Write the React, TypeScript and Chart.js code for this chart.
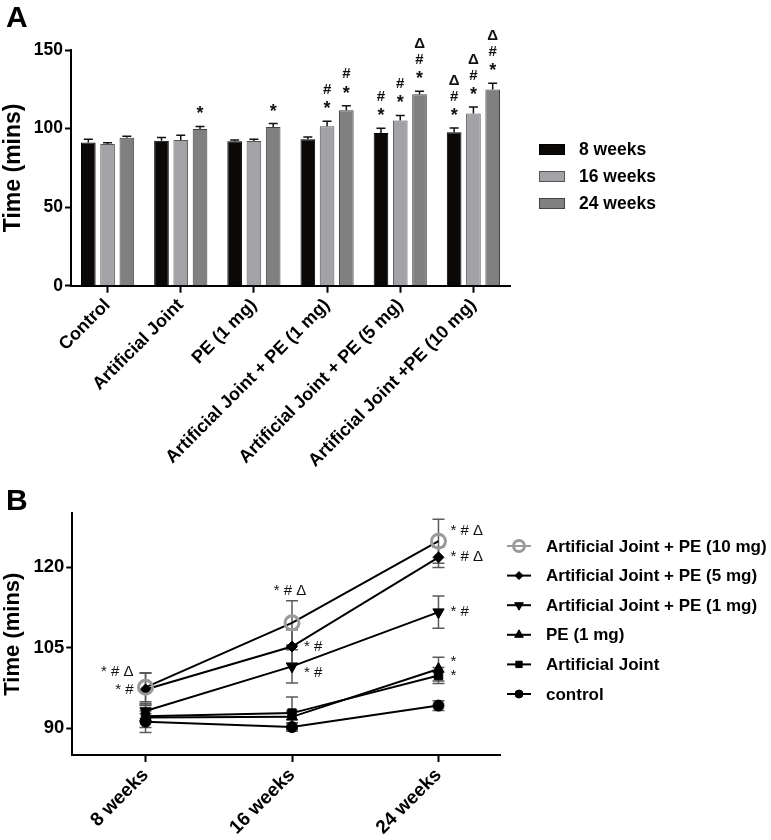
import React, { useEffect, useRef } from 'react';
import { Chart, registerables } from 'chart.js';
import { drawPoint } from 'chart.js/helpers';

Chart.register(...registerables);

const FONT = '"Liberation Sans", Arial, Helvetica, sans-serif';

// ---------- data ----------
const groupLabels = [
  'Control',
  'Artificial Joint',
  'PE (1 mg)',
  'Artificial Joint + PE (1 mg)',
  'Artificial Joint + PE (5 mg)',
  'Artificial Joint +PE (10 mg)',
];
const weekLabels = ['8 weeks', '16 weeks', '24 weeks'];

const controlMean = [91.2, 90.2, 94.2];
const jointMean = [92.2, 92.8, 99.8];
const pe1Mean = [92.0, 92.1, 101.0];
const jointPe1Mean = [93.2, 101.5, 111.6];
const jointPe5Mean = [97.2, 105.2, 121.8];
const jointPe10Mean = [97.6, 109.6, 124.8];

const controlErr = [2.0, 0.8, 0.9];
const jointErr = [2.1, 3.0, 1.5];
const pe1Err = [0.7, 1.1, 2.2];
const jointPe1Err = [1.4, 3.1, 3.0];
const jointPe5Err = [3.0, 3.1, 1.9];
const jointPe10Err = [2.7, 4.1, 4.1];

const controlSig = ['', '', ''];
const jointSig = ['', '', '*'];
const pe1Sig = ['', '', '*'];
const jointPe1Sig = ['', '*#', '*#'];
const jointPe5Sig = ['*#', '*#', '*#Δ'];
const jointPe10Sig = ['*#Δ', '*#Δ', '*#Δ'];

const yTicksA = [0, 50, 100, 150];
const yTicksB = [90, 105, 120];
const xPositionsB = [0, 1, 2];

const groupMeans = [controlMean, jointMean, pe1Mean, jointPe1Mean, jointPe5Mean, jointPe10Mean];
const groupErrs = [controlErr, jointErr, pe1Err, jointPe1Err, jointPe5Err, jointPe10Err];
const groupSigs = [controlSig, jointSig, pe1Sig, jointPe1Sig, jointPe5Sig, jointPe10Sig];

const barColors = ['#0b0808', '#a3a3a7', '#808080'];
const barBorders = ['#000000', '#555555', '#444444'];

// line panel order (legend order): 10mg, 5mg, 1mg, PE, AJ, control
const lineOrder = [5, 4, 3, 2, 1, 0];
const lineLabels = [
  'Artificial Joint + PE (10 mg)',
  'Artificial Joint + PE (5 mg)',
  'Artificial Joint + PE (1 mg)',
  'PE (1 mg)',
  'Artificial Joint',
  'control',
];
const lineStyles = [
  { pointStyle: 'circle', radius: 7, rotation: 0, border: '#9a9a9a', fill: 'rgba(255,255,255,0)', bw: 3 },
  { pointStyle: 'rectRot', radius: 5.5, rotation: 0, border: '#000', fill: '#000', bw: 1 },
  { pointStyle: 'triangle', radius: 6.5, rotation: 180, border: '#000', fill: '#000', bw: 1 },
  { pointStyle: 'triangle', radius: 6.5, rotation: 0, border: '#000', fill: '#000', bw: 1 },
  { pointStyle: 'rect', radius: 6, rotation: 0, border: '#000', fill: '#000', bw: 1 },
  { pointStyle: 'circle', radius: 5.5, rotation: 0, border: '#000', fill: '#000', bw: 1 },
];

// ---------- plugins ----------
const barExtras = {
  id: 'barExtras',
  afterDatasetsDraw(chart: any) {
    const ctx = chart.ctx;
    const ys = chart.scales.y;
    ctx.save();
    chart.data.datasets.forEach((ds: any, di: number) => {
      const meta = chart.getDatasetMeta(di);
      meta.data.forEach((el: any, j: number) => {
        const mean = groupMeans[j][di];
        const err = groupErrs[j][di];
        const yBar = ys.getPixelForValue(mean);
        const yTop = ys.getPixelForValue(mean + err);
        ctx.strokeStyle = '#111';
        ctx.lineWidth = 1.5;
        ctx.beginPath();
        ctx.moveTo(el.x, yBar);
        ctx.lineTo(el.x, yTop);
        ctx.moveTo(el.x - 4.5, yTop);
        ctx.lineTo(el.x + 4.5, yTop);
        ctx.stroke();
        const sig = Array.from(groupSigs[j][di]);
        ctx.fillStyle = '#111';
        ctx.textAlign = 'center';
        ctx.textBaseline = 'middle';
        sig.forEach((ch, k) => {
          ctx.font = ch === '*' ? `bold 18px ${FONT}` : `bold 15px ${FONT}`;
          const cy = yTop - 16 - k * 15.5 + (ch === '*' ? 4 : 0);
          ctx.fillText(ch, el.x, cy);
        });
      });
    });
    // panel letter
    ctx.fillStyle = '#000';
    ctx.textAlign = 'left';
    ctx.textBaseline = 'alphabetic';
    ctx.font = `bold 30px ${FONT}`;
    ctx.fillText('A', 6, 27);
    // legend
    chart.data.datasets.forEach((ds: any, di: number) => {
      const cy = 149.5 + di * 27;
      ctx.fillStyle = ds.backgroundColor;
      ctx.fillRect(539, cy - 5.5, 26, 11);
      ctx.strokeStyle = ds.borderColor;
      ctx.lineWidth = 1;
      ctx.strokeRect(539.5, cy - 5, 25, 10);
      ctx.fillStyle = '#000';
      ctx.textBaseline = 'middle';
      ctx.font = `bold 17.5px ${FONT}`;
      ctx.fillText(ds.label, 579, cy + 1);
    });
    ctx.restore();
  },
};

const lineExtras = {
  id: 'lineExtras',
  beforeDatasetsDraw(chart: any) {
    const ctx = chart.ctx;
    const ys = chart.scales.y;
    ctx.save();
    ctx.strokeStyle = '#5a5a5a';
    ctx.lineWidth = 1.5;
    chart.data.datasets.forEach((ds: any, di: number) => {
      const g = lineOrder[di];
      const meta = chart.getDatasetMeta(di);
      meta.data.forEach((el: any, j: number) => {
        const m = groupMeans[g][j];
        const e = groupErrs[g][j];
        const y1 = ys.getPixelForValue(m + e);
        const y2 = ys.getPixelForValue(m - e);
        ctx.beginPath();
        ctx.moveTo(el.x, y1);
        ctx.lineTo(el.x, y2);
        ctx.moveTo(el.x - 6, y1);
        ctx.lineTo(el.x + 6, y1);
        ctx.moveTo(el.x - 6, y2);
        ctx.lineTo(el.x + 6, y2);
        ctx.stroke();
      });
    });
    ctx.restore();
  },
  afterDatasetsDraw(chart: any) {
    const ctx = chart.ctx;
    ctx.save();
    ctx.fillStyle = '#111';
    ctx.textBaseline = 'middle';
    ctx.font = `15px ${FONT}`;
    chart.data.datasets.forEach((ds: any, di: number) => {
      const g = lineOrder[di];
      const meta = chart.getDatasetMeta(di);
      meta.data.forEach((el: any, j: number) => {
        const txt = Array.from(groupSigs[g][j]).join(' ');
        if (!txt) return;
        if (j === 0) {
          ctx.textAlign = 'right';
          ctx.fillText(txt, el.x - 12, el.y + (di === 0 ? -15 : 0));
        } else if (j === 1 && di === 0) {
          ctx.textAlign = 'center';
          ctx.fillText(txt, el.x - 2, el.y - 32);
        } else {
          ctx.textAlign = 'left';
          let dy = 0;
          if (j === 1 && di === 2) dy = 6;
          if (j === 2 && di === 0) dy = -10;
          if (j === 2 && di === 3) dy = -7;
          ctx.fillText(txt, el.x + 12, el.y + dy);
        }
      });
    });
    // panel letter
    ctx.fillStyle = '#000';
    ctx.textAlign = 'left';
    ctx.textBaseline = 'alphabetic';
    ctx.font = `bold 30px ${FONT}`;
    ctx.fillText('B', 6, 30);
    // legend
    chart.data.datasets.forEach((ds: any, di: number) => {
      const st = lineStyles[di];
      const cy = 66 + di * 29.6;
      ctx.strokeStyle = st.border;
      ctx.lineWidth = 2;
      ctx.beginPath();
      ctx.moveTo(507, cy);
      ctx.lineTo(531, cy);
      ctx.stroke();
      ctx.fillStyle = st.fill;
      ctx.strokeStyle = st.border;
      ctx.lineWidth = st.bw;
      drawPoint(ctx, { pointStyle: st.pointStyle, radius: st.radius - 1.5, rotation: st.rotation, borderWidth: st.bw } as any, 519, cy);
      ctx.fillStyle = '#000';
      ctx.textAlign = 'left';
      ctx.textBaseline = 'middle';
      ctx.font = `bold 17px ${FONT}`;
      ctx.fillText(ds.label, 546, cy + 1);
    });
    ctx.restore();
  },
};

const axisCommon = (tickLength: number) => ({
  grid: {
    display: true,
    drawOnChartArea: false,
    drawTicks: true,
    tickLength,
    tickWidth: 2,
    tickColor: '#000',
  },
  border: { display: true, color: '#000', width: 2 },
});

export default function App() {
  const refA = useRef<HTMLCanvasElement>(null);
  const refB = useRef<HTMLCanvasElement>(null);

  useEffect(() => {
    const chartA = new Chart(refA.current as HTMLCanvasElement, {
      type: 'bar',
      data: {
        labels: groupLabels,
        datasets: weekLabels.map((w, i) => ({
          label: w,
          data: groupMeans.map((m) => m[i]),
          backgroundColor: barColors[i],
          borderColor: barBorders[i],
          borderWidth: 1,
          categoryPercentage: 0.79,
          barPercentage: 0.76,
        })),
      },
      options: {
        animation: false,
        responsive: false,
        layout: { padding: { left: 0, right: 261, top: 50, bottom: 0 } },
        plugins: { legend: { display: false }, tooltip: { enabled: false } },
        scales: {
          x: {
            type: 'category',
            offset: true,
            ...axisCommon(7),
            grid: { ...axisCommon(7).grid, offset: false },
            ticks: {
              autoSkip: false,
              maxRotation: 45,
              minRotation: 45,
              color: '#000',
              padding: 2,
              font: { family: FONT, size: 18, weight: 'bold' },
            },
            afterFit: (s: any) => {
              s.height = 470 - 285.7;
            },
          },
          y: {
            min: 0,
            max: 150,
            ...axisCommon(6),
            afterBuildTicks: (s: any) => {
              s.ticks = yTicksA.map((v) => ({ value: v }));
            },
            ticks: {
              color: '#000',
              padding: 2,
              font: { family: FONT, size: 17.5, weight: 'bold' },
            },
            title: {
              display: true,
              text: 'Time (mins)',
              color: '#000',
              padding: 0,
              font: { family: FONT, size: 23, weight: 'bold' },
            },
            afterFit: (s: any) => {
              s.width = 71;
            },
          },
        },
      } as any,
      plugins: [barExtras],
    });

    const chartB = new Chart(refB.current as HTMLCanvasElement, {
      type: 'line',
      data: {
        datasets: lineOrder.map((g, di) => ({
          label: lineLabels[di],
          data: xPositionsB.map((x, j) => ({ x, y: groupMeans[g][j] })),
          borderColor: '#000',
          borderWidth: 2,
          fill: false,
          tension: 0,
          pointStyle: lineStyles[di].pointStyle,
          pointRadius: lineStyles[di].radius,
          pointRotation: lineStyles[di].rotation,
          pointBorderColor: lineStyles[di].border,
          pointBackgroundColor: lineStyles[di].fill,
          pointBorderWidth: lineStyles[di].bw,
        })),
      },
      options: {
        animation: false,
        responsive: false,
        layout: { padding: { left: 0, right: 271, top: 33.3, bottom: 0 } },
        plugins: { legend: { display: false }, tooltip: { enabled: false } },
        scales: {
          x: {
            type: 'linear',
            min: -0.5,
            max: 2.42,
            ...axisCommon(7),
            afterBuildTicks: (s: any) => {
              s.ticks = xPositionsB.map((v) => ({ value: v }));
            },
            ticks: {
              autoSkip: false,
              maxRotation: 45,
              minRotation: 45,
              color: '#000',
              padding: 2,
              font: { family: FONT, size: 19, weight: 'bold' },
              callback: (v: any) => weekLabels[Math.round(v)],
            },
            afterFit: (s: any) => {
              s.height = 360 - 275;
            },
          },
          y: {
            min: 85,
            max: 130,
            ...axisCommon(6),
            afterBuildTicks: (s: any) => {
              s.ticks = yTicksB.map((v) => ({ value: v }));
            },
            ticks: {
              color: '#000',
              padding: 2,
              font: { family: FONT, size: 18.5, weight: 'bold' },
            },
            title: {
              display: true,
              text: 'Time (mins)',
              color: '#000',
              padding: 0,
              font: { family: FONT, size: 22, weight: 'bold' },
            },
            afterFit: (s: any) => {
              s.width = 72.3;
            },
          },
        },
      } as any,
      plugins: [lineExtras],
    });

    return () => {
      chartA.destroy();
      chartB.destroy();
    };
  }, []);

  return (
    <div style={{ position: 'absolute', left: 0, top: 0, width: 771, height: 840, background: '#fff' }}>
      <canvas ref={refA} width={771} height={470} style={{ position: 'absolute', left: 0, top: 0, display: 'block' }} />
      <canvas ref={refB} width={771} height={360} style={{ position: 'absolute', left: 0, top: 480, display: 'block' }} />
    </div>
  );
}
